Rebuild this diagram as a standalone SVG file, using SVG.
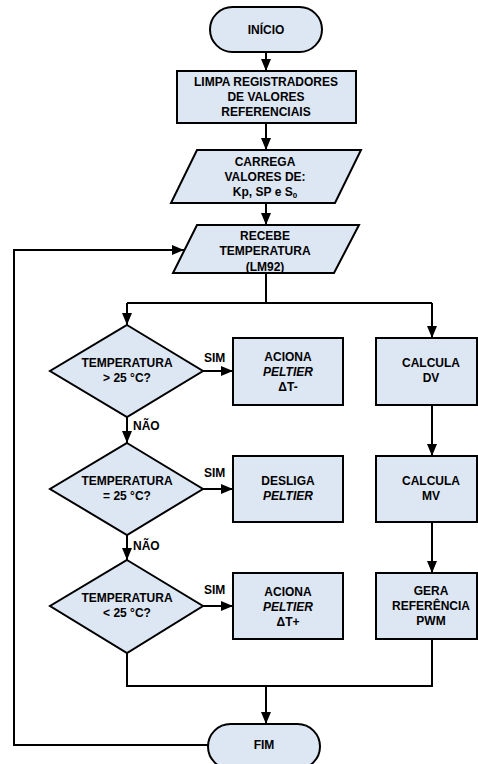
<svg xmlns="http://www.w3.org/2000/svg" width="478" height="764" viewBox="0 0 478 764">
<defs>
<marker id="arr" markerUnits="userSpaceOnUse" markerWidth="12" markerHeight="10" refX="12" refY="5" orient="auto"><path d="M0,0 L12,5 L0,10 z" fill="#000"/></marker>
<style>
.s{fill:#dde6f3;stroke:#000;stroke-width:2}
.c{fill:none;stroke:#000;stroke-width:2}
.a{fill:none;stroke:#000;stroke-width:2;marker-end:url(#arr)}
text{font-family:"Liberation Sans",Arial,sans-serif;font-size:12px;font-weight:bold;fill:#000}
.m{text-anchor:middle}
.i{font-style:italic}
</style>
</defs>
<rect width="478" height="764" fill="#fff"/>
<g id="connectors">
<path class="a" d="M266,52 V71"/>
<path class="a" d="M266,123 V150"/>
<path class="a" d="M266,203 V225"/>
<path class="c" d="M266,273 V303"/>
<path class="c" d="M127,303 H432"/>
<path class="a" d="M127,303 V325"/>
<path class="a" d="M432,303 V338"/>
<path class="a" d="M203,371 H233"/>
<path class="a" d="M127,417 V443"/>
<path class="a" d="M203,489 H233"/>
<path class="a" d="M127,535 V560"/>
<path class="a" d="M203,606 H233"/>
<path class="a" d="M432,405 V456"/>
<path class="a" d="M432,522 V573"/>
<path class="c" d="M127,653 V686 H432 V639"/>
<path class="a" d="M266,686 V724"/>
<path class="a" d="M208,745 H14 V250 H184"/>
<text x="204" y="362">SIM</text>
<text x="133" y="430">NÃO</text>
<text x="204" y="477">SIM</text>
<text x="133" y="550">NÃO</text>
<text x="204" y="594">SIM</text>
</g>
<g id="inicio">
<rect class="s" x="210" y="7" width="112" height="45" rx="22.5"/>
<text class="m" x="266" y="34">INÍCIO</text>
</g>
<g id="limpa">
<rect class="s" x="177" y="71" width="179" height="52"/>
<text class="m" x="266" y="86">LIMPA REGISTRADORES</text>
<text class="m" x="266" y="101">DE VALORES</text>
<text class="m" x="266" y="116">REFERENCIAIS</text>
</g>
<g id="carrega">
<polygon class="s" points="197,150 361,150 335,203 171,203"/>
<text class="m" x="265" y="166">CARREGA</text>
<text class="m" x="265" y="181">VALORES DE:</text>
<text class="m" x="265" y="196">Kp, SP e S<tspan font-size="8" dy="2">0</tspan></text>
</g>
<g id="recebe">
<polygon class="s" points="197,225 359,225 334,273 173,273"/>
<text class="m" x="265" y="239.5">RECEBE</text>
<text class="m" x="265" y="255">TEMPERATURA</text>
<text class="m" x="265" y="270.5">(LM92)</text>
</g>
<g id="dec1">
<polygon class="s" points="127,325 203,371 127,417 50,371"/>
<text class="m" x="127" y="367">TEMPERATURA</text>
<text class="m" x="127" y="382">&gt; 25 °C?</text>
</g>
<g id="aciona1">
<rect class="s" x="233" y="338" width="110" height="67"/>
<text class="m" x="288" y="361">ACIONA</text>
<text class="m i" x="288" y="376">PELTIER</text>
<text class="m" x="288" y="391">ΔT-</text>
</g>
<g id="calcdv">
<rect class="s" x="376" y="338" width="101" height="67"/>
<text class="m" x="431" y="367">CALCULA</text>
<text class="m" x="431" y="382">DV</text>
</g>
<g id="dec2">
<polygon class="s" points="127,443 203,489 127,535 50,489"/>
<text class="m" x="127" y="485">TEMPERATURA</text>
<text class="m" x="127" y="500">= 25 °C?</text>
</g>
<g id="desliga">
<rect class="s" x="233" y="456" width="110" height="66"/>
<text class="m" x="288" y="485">DESLIGA</text>
<text class="m i" x="288" y="500">PELTIER</text>
</g>
<g id="calcmv">
<rect class="s" x="376" y="456" width="101" height="66"/>
<text class="m" x="431" y="485">CALCULA</text>
<text class="m" x="431" y="500">MV</text>
</g>
<g id="dec3">
<polygon class="s" points="127,560 203,606 127,653 50,606"/>
<text class="m" x="127" y="602">TEMPERATURA</text>
<text class="m" x="127" y="617">&lt; 25 °C?</text>
</g>
<g id="aciona3">
<rect class="s" x="233" y="573" width="110" height="66"/>
<text class="m" x="288" y="595.5">ACIONA</text>
<text class="m i" x="288" y="610.5">PELTIER</text>
<text class="m" x="288" y="625.5">ΔT+</text>
</g>
<g id="gera">
<rect class="s" x="376" y="573" width="101" height="66"/>
<text class="m" x="431" y="595">GERA</text>
<text class="m" x="431" y="610">REFERÊNCIA</text>
<text class="m" x="431" y="625">PWM</text>
</g>
<g id="fim">
<rect class="s" x="208" y="724" width="112" height="45" rx="22.5"/>
<text class="m" x="264" y="749">FIM</text>
</g>
</svg>
